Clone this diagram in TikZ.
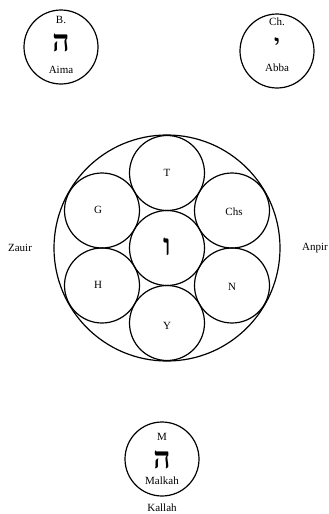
\documentclass[tikz,border=0pt]{standalone}
\usepackage{fontspec}
\setmainfont{Liberation Serif}
\newfontfamily\hebfont[Script=Hebrew]{Liberation Serif}
\begin{document}
\begin{tikzpicture}[x=1pt,y=-1pt,
  circ/.style={draw,circle,line width=1.2pt,minimum size=74pt,inner sep=0pt},
  hexc/.style={draw,circle,line width=1.2pt,minimum size=75pt,inner sep=0pt},
  lbl/.style={font=\fontsize{11}{12}\selectfont,inner sep=0pt},
  heb/.style={font=\hebfont\bfseries\fontsize{30}{32}\selectfont,inner sep=0pt},
  hebs/.style={font=\hebfont\bfseries\fontsize{22}{24}\selectfont,inner sep=0pt}]
\useasboundingbox (0,0) rectangle (329,514);
% top circles
\node[circ] (aima) at (61,47) {};
\node[lbl] (aimaB) at (61,20) {B.};
\node[heb] (aimaH) at (61,43) {ה};
\node[lbl] (aimaN) at (61,70) {Aima};
\node[circ] (abba) at (277,51) {};
\node[lbl] (abbaC) at (277,22) {Ch.};
\node[hebs] (abbaY) at (277,44) {י};
\node[lbl] (abbaN) at (277,68) {Abba};
% big circle
\node[draw,circle,line width=1.2pt,minimum size=226pt,inner sep=0pt] (big) at (167,248) {};
\node[hexc] (c) at (167,248) {};
\node[hexc] (t) at (167,173) {};
\node[hexc] (y) at (167,323) {};
\node[hexc] (g) at (102,210.5) {};
\node[hexc] (chs) at (232,210.5) {};
\node[hexc] (h) at (102,285.5) {};
\node[hexc] (n) at (232,285.5) {};
\node[lbl] (tl) at (t) {T};
\node[lbl] (yl) at (167,326) {Y};
\node[lbl] (gl) at (98,210) {G};
\node[lbl] (chsl) at (234,212) {Chs};
\node[lbl] (hl) at (98,285) {H};
\node[lbl] (nl) at (232,287) {N};
\node[heb] (cl) at (167,247) {ו};
\node[lbl] (zauir) at (20,248) {Zauir};
\node[lbl] (anpir) at (315,248) {Anpir};
% bottom
\node[circ] (malkah) at (162,459) {};
\node[lbl] (mM) at (162,437) {M};
\node[heb] (mH) at (162,460) {ה};
\node[lbl] (mN) at (162,481) {Malkah};
\node[lbl] (kallah) at (162,508) {Kallah};
\end{tikzpicture}
\end{document}
